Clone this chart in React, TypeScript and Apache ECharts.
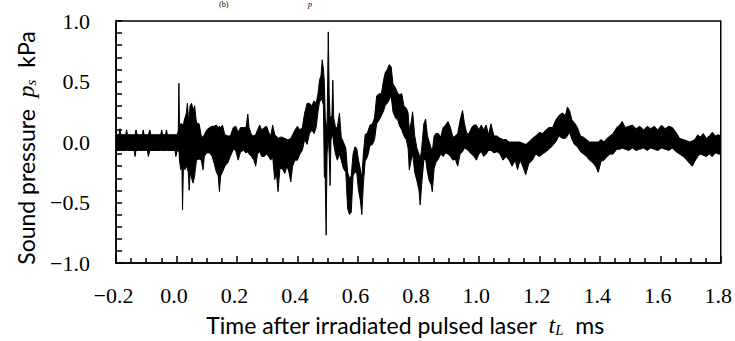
import React, { useEffect, useRef } from 'react';
import * as echarts from 'echarts';

// Envelope of the recorded waveform: [time ms, upper kPa, lower kPa]
const preTrigger: number[][] = [
  [-0.2, 0.06, -0.07], [-0.19, 0.06, -0.07], [-0.187, 0.11, -0.07], [-0.184, 0.06, -0.07],
  [-0.168, 0.06, -0.07], [-0.165, 0.1, -0.07], [-0.162, 0.06, -0.07], [-0.14, 0.06, -0.07],
  [-0.137, 0.06, -0.12], [-0.134, 0.1, -0.07], [-0.13, 0.06, -0.07], [-0.113, 0.06, -0.07],
  [-0.11, 0.1, -0.07], [-0.107, 0.06, -0.07], [-0.096, 0.06, -0.07], [-0.093, 0.06, -0.12],
  [-0.088, 0.1, -0.07], [-0.085, 0.06, -0.07], [-0.052, 0.06, -0.07], [-0.049, 0.1, -0.07],
  [-0.046, 0.06, -0.07], [-0.036, 0.06, -0.07], [-0.033, 0.1, -0.07], [-0.03, 0.06, -0.07],
  [-0.005, 0.06, -0.07], [-0.002, 0.06, -0.12], [0.003, 0.06, -0.06],
];

const onset: number[][] = [
  [0.006, 0.1, -0.08], [0.008, 0.485, -0.05], [0.01, 0.12, -0.15], [0.014, 0.15, -0.23],
  [0.018, 0.15, -0.2], [0.02, 0.14, -0.56], [0.023, 0.15, -0.2], [0.028, 0.2, -0.23],
  [0.033, 0.24, -0.2], [0.036, 0.32, -0.22], [0.039, 0.22, -0.25], [0.042, 0.2, -0.4],
  [0.045, 0.3, -0.26], [0.05, 0.32, -0.3], [0.055, 0.26, -0.34], [0.06, 0.3, -0.28],
  [0.066, 0.16, -0.15], [0.075, 0.15, -0.14], [0.082, 0.05, -0.15], [0.088, 0.04, -0.23],
  [0.092, 0.06, -0.12], [0.1, 0.1, -0.09], [0.11, 0.12, -0.09], [0.118, 0.13, -0.12],
  [0.125, 0.13, -0.18], [0.132, 0.14, -0.25], [0.138, 0.12, -0.28], [0.142, 0.13, -0.41],
  [0.146, 0.12, -0.28], [0.152, 0.14, -0.25], [0.16, 0.06, -0.2], [0.17, 0.05, -0.17],
  [0.178, 0.05, -0.12], [0.188, 0.12, -0.06], [0.196, 0.13, -0.07], [0.204, 0.08, -0.15],
  [0.212, 0.12, -0.08], [0.222, 0.12, -0.07], [0.23, 0.12, -0.09], [0.236, 0.23, -0.08],
  [0.24, 0.12, -0.1], [0.248, 0.06, -0.12], [0.256, 0.05, -0.15], [0.262, 0.06, -0.2],
  [0.268, 0.1, -0.1], [0.275, 0.14, -0.08], [0.282, 0.1, -0.12], [0.29, 0.12, -0.12],
  [0.298, 0.13, -0.1], [0.305, 0.08, -0.12], [0.312, 0.05, -0.15],
];

const mainBurst: number[][] = [
  [0.318, 0.14, -0.12], [0.325, 0.06, -0.31], [0.33, 0.05, -0.25], [0.336, 0.03, -0.41],
  [0.342, 0.04, -0.22], [0.35, 0.04, -0.22], [0.358, 0.03, -0.26], [0.366, 0.02, -0.2],
  [0.372, 0.02, -0.25], [0.378, 0.03, -0.33], [0.384, 0.06, -0.2], [0.392, 0.1, -0.15],
  [0.4, 0.13, -0.15], [0.408, 0.1, -0.1], [0.416, 0.12, -0.07], [0.424, 0.24, 0.02],
  [0.432, 0.32, -0.02], [0.44, 0.32, 0.07], [0.448, 0.3, 0.1], [0.455, 0.34, 0.07],
  [0.462, 0.32, 0.12], [0.468, 0.4, 0.25], [0.473, 0.51, 0.33], [0.478, 0.55, 0.35],
  [0.482, 0.68, 0.35], [0.486, 0.6, 0.3], [0.489, 0.5, -0.29], [0.492, 0.2, -0.3],
  [0.495, 0.15, -0.77], [0.498, 0.1, -0.1], [0.502, 0.91, 0.05], [0.505, 0.4, -0.1],
  [0.508, 0.2, -0.36], [0.511, 0.21, 0.02], [0.514, 0.22, 0.04], [0.517, 0.51, 0.06],
  [0.52, 0.2, -0.02], [0.526, 0.12, -0.1], [0.532, 0.12, -0.15], [0.539, 0.24, -0.1],
  [0.545, 0.04, -0.15], [0.552, 0.0, -0.22], [0.56, -0.05, -0.25], [0.566, -0.25, -0.55],
  [0.572, -0.3, -0.6], [0.578, -0.28, -0.58], [0.584, -0.1, -0.28], [0.59, -0.04, -0.25],
  [0.596, -0.05, -0.25], [0.602, -0.15, -0.4], [0.608, -0.22, -0.48], [0.613, -0.3, -0.6],
  [0.618, -0.1, -0.35], [0.624, 0.06, -0.16], [0.632, 0.08, -0.12], [0.64, 0.14, -0.03],
  [0.648, 0.15, -0.02], [0.655, 0.2, 0.02], [0.662, 0.38, 0.15], [0.67, 0.4, 0.18],
  [0.678, 0.4, 0.22],
];

const secondBurst: number[][] = [
  [0.684, 0.5, 0.25], [0.69, 0.57, 0.3], [0.697, 0.6, 0.32], [0.704, 0.64, 0.35],
  [0.71, 0.62, 0.38], [0.716, 0.48, 0.25], [0.724, 0.45, 0.2], [0.732, 0.4, 0.18],
  [0.738, 0.39, 0.13], [0.745, 0.4, 0.1], [0.752, 0.3, 0.05], [0.76, 0.28, 0.02],
  [0.766, 0.24, -0.05], [0.77, 0.1, -0.23], [0.776, 0.16, -0.15], [0.781, 0.25, -0.1],
  [0.788, 0.05, -0.25], [0.795, -0.05, -0.32], [0.802, -0.1, -0.4], [0.806, -0.15, -0.52],
  [0.811, -0.05, -0.35], [0.818, 0.15, -0.15], [0.824, 0.19, -0.14], [0.83, 0.05, -0.25],
  [0.836, 0.0, -0.32], [0.842, -0.05, -0.35], [0.846, -0.08, -0.41], [0.852, 0.05, -0.22],
  [0.858, 0.07, -0.17], [0.866, 0.07, -0.14], [0.874, 0.04, -0.1], [0.882, 0.12, -0.12],
  [0.89, 0.14, -0.09], [0.898, 0.17, -0.1], [0.906, 0.12, -0.12], [0.914, 0.04, -0.15],
  [0.922, 0.05, -0.14], [0.93, 0.07, -0.2], [0.938, 0.18, -0.1], [0.946, 0.26, -0.08],
  [0.952, 0.16, -0.05], [0.96, 0.07, -0.06], [0.968, 0.07, -0.08], [0.976, 0.12, -0.1],
  [0.984, 0.14, -0.12], [0.992, 0.14, -0.15], [1.0, 0.1, -0.1],
];

const tail: number[][] = [
  [1.008, 0.14, -0.08], [1.016, 0.1, -0.12], [1.024, 0.14, -0.1], [1.032, 0.06, -0.07],
  [1.04, 0.15, -0.07], [1.05, 0.05, -0.09], [1.06, 0.05, -0.08], [1.07, 0.03, -0.1],
  [1.08, 0.02, -0.15], [1.09, 0.02, -0.12], [1.1, 0.0, -0.15], [1.11, 0.0, -0.2],
  [1.12, 0.0, -0.15], [1.128, 0.0, -0.23], [1.136, 0.0, -0.15], [1.145, -0.01, -0.2],
  [1.155, -0.02, -0.27], [1.165, 0.0, -0.18], [1.177, 0.03, -0.15], [1.188, 0.05, -0.1],
  [1.2, 0.08, -0.12], [1.21, 0.07, -0.1], [1.222, 0.1, -0.08], [1.232, 0.12, -0.06],
  [1.244, 0.12, -0.03], [1.254, 0.18, 0.0], [1.265, 0.22, 0.05], [1.276, 0.24, 0.03],
  [1.286, 0.22, 0.03], [1.293, 0.29, 0.05], [1.3, 0.26, 0.08], [1.308, 0.18, 0.02],
  [1.316, 0.16, -0.02], [1.326, 0.12, -0.04], [1.336, 0.05, -0.08], [1.346, 0.04, -0.1],
  [1.356, 0.02, -0.12], [1.366, 0.0, -0.15], [1.376, 0.0, -0.17], [1.386, 0.0, -0.2],
  [1.395, 0.0, -0.25], [1.404, 0.02, -0.16], [1.414, 0.0, -0.15], [1.424, 0.03, -0.12],
  [1.434, 0.05, -0.1], [1.444, 0.07, -0.1], [1.456, 0.12, -0.06], [1.466, 0.14, -0.06],
  [1.474, 0.17, -0.05], [1.484, 0.12, -0.06], [1.496, 0.13, -0.07], [1.508, 0.14, -0.05],
  [1.52, 0.11, -0.07], [1.532, 0.13, -0.06], [1.545, 0.1, -0.05], [1.557, 0.13, -0.07],
  [1.568, 0.11, -0.05], [1.58, 0.13, -0.06], [1.592, 0.1, -0.07], [1.604, 0.14, -0.05],
  [1.616, 0.11, -0.06], [1.628, 0.13, -0.07], [1.64, 0.12, -0.05], [1.652, 0.08, -0.08],
  [1.664, 0.03, -0.1], [1.676, 0.02, -0.12], [1.688, 0.01, -0.15], [1.698, 0.0, -0.18],
  [1.706, 0.01, -0.2], [1.714, 0.02, -0.16], [1.724, 0.06, -0.12], [1.732, 0.04, -0.1],
  [1.742, 0.07, -0.11], [1.752, 0.03, -0.12], [1.762, 0.05, -0.1], [1.772, 0.08, -0.12],
  [1.782, 0.05, -0.09], [1.792, 0.06, -0.1], [1.8, 0.05, -0.1],
];

const xRange = [-0.2, 1.8];
const yRange = [-1.0, 1.0];

const fmt = (v: number) => {
  if (Math.abs(v) < 1e-9) return '0.0';
  const s = v.toFixed(1);
  return s.replace('-', '\u2212');
};

export default function App() {
  const ref = useRef<HTMLDivElement>(null);
  useEffect(() => {
    document.body.style.margin = '0';
    if (!ref.current) return;
    const chart = echarts.init(ref.current, null, { renderer: 'svg' });
    const all = [...preTrigger, ...onset, ...mainBurst, ...secondBurst, ...tail];
    const serif = '"Liberation Serif", "Times New Roman", serif';
    const sans = 'Lato, "Open Sans", sans-serif';
    const tickStyle = { color: '#000', width: 1.5 };
    const rich = {
      n: { fontFamily: sans, fontSize: 23, fill: '#000' },
      i: { fontFamily: serif, fontStyle: 'italic', fontSize: 24, fill: '#000' },
      s: { fontFamily: serif, fontStyle: 'italic', fontSize: 15, fill: '#000', verticalAlign: 'bottom', padding: [9, 0, 0, 0] },
    };
    chart.setOption({
      animation: false,
      backgroundColor: '#fff',
      grid: { left: 116, right: 13, top: 21, bottom: 78, show: true, borderColor: '#000', borderWidth: 1.5 },
      xAxis: {
        type: 'value', min: xRange[0], max: xRange[1], interval: 0.2,
        axisLine: { onZero: false, lineStyle: { color: '#000', width: 1.5 } },
        axisTick: { inside: true, length: 7, lineStyle: tickStyle },
        minorTick: { show: true, splitNumber: 4, length: 5, lineStyle: tickStyle },
        splitLine: { show: false },
        axisLabel: { formatter: fmt, fontFamily: serif, fontSize: 22, color: '#000', margin: 21, padding: [0, 5, 0, 0] },
      },
      yAxis: {
        type: 'value', min: yRange[0], max: yRange[1], interval: 0.5,
        axisLine: { onZero: false, lineStyle: { color: '#000', width: 1.5 } },
        axisTick: { inside: true, length: 6, lineStyle: tickStyle },
        minorTick: { show: true, splitNumber: 5, length: 6, lineStyle: tickStyle },
        splitLine: { show: false },
        axisLabel: { formatter: fmt, fontFamily: serif, fontSize: 22, color: '#000', margin: 26 },
      },
      graphic: [
        {
          type: 'text', x: 405, y: 325,
          style: {
            text: '{n|Time after irradiated pulsed laser  }{i|t}{s|L}{n|  ms}',
            align: 'center', verticalAlign: 'middle', fill: '#000', rich,
          },
        },
        {
          type: 'text', x: 26, y: 148, rotation: Math.PI / 2,
          style: {
            text: '{n|Sound pressure  }{i|p}{s|s}{n|  kPa}',
            align: 'center', verticalAlign: 'middle', fill: '#000', rich,
          },
        },
        { type: 'text', x: 219, y: 0, style: { text: '(b)', fontFamily: serif, fontSize: 8, fill: '#000', verticalAlign: 'top' } },
        { type: 'text', x: 308, y: 0, style: { text: 'p', fontFamily: serif, fontStyle: 'italic', fontSize: 8, fill: '#000', verticalAlign: 'top' } },
      ],
      series: [
        {
          type: 'custom',
          coordinateSystem: 'cartesian2d',
          silent: true,
          clip: true,
          data: all.map((r) => [r[0], r[1], r[2]]),
          encode: { x: 0, y: [1, 2] },
          renderItem: (params: any, api: any) => {
            if (params.dataIndex !== 0) return null;
            const top = all.map((r) => api.coord([r[0], r[1]]));
            const bot = all.slice().reverse().map((r) => api.coord([r[0], r[2]]));
            return {
              type: 'polygon',
              shape: { points: top.concat(bot) },
              style: { fill: '#000', stroke: '#000', lineWidth: 1 },
            };
          },
        },
      ],
    });
    return () => chart.dispose();
  }, []);
  return <div ref={ref} style={{ width: 735, height: 341 }} />;
}
